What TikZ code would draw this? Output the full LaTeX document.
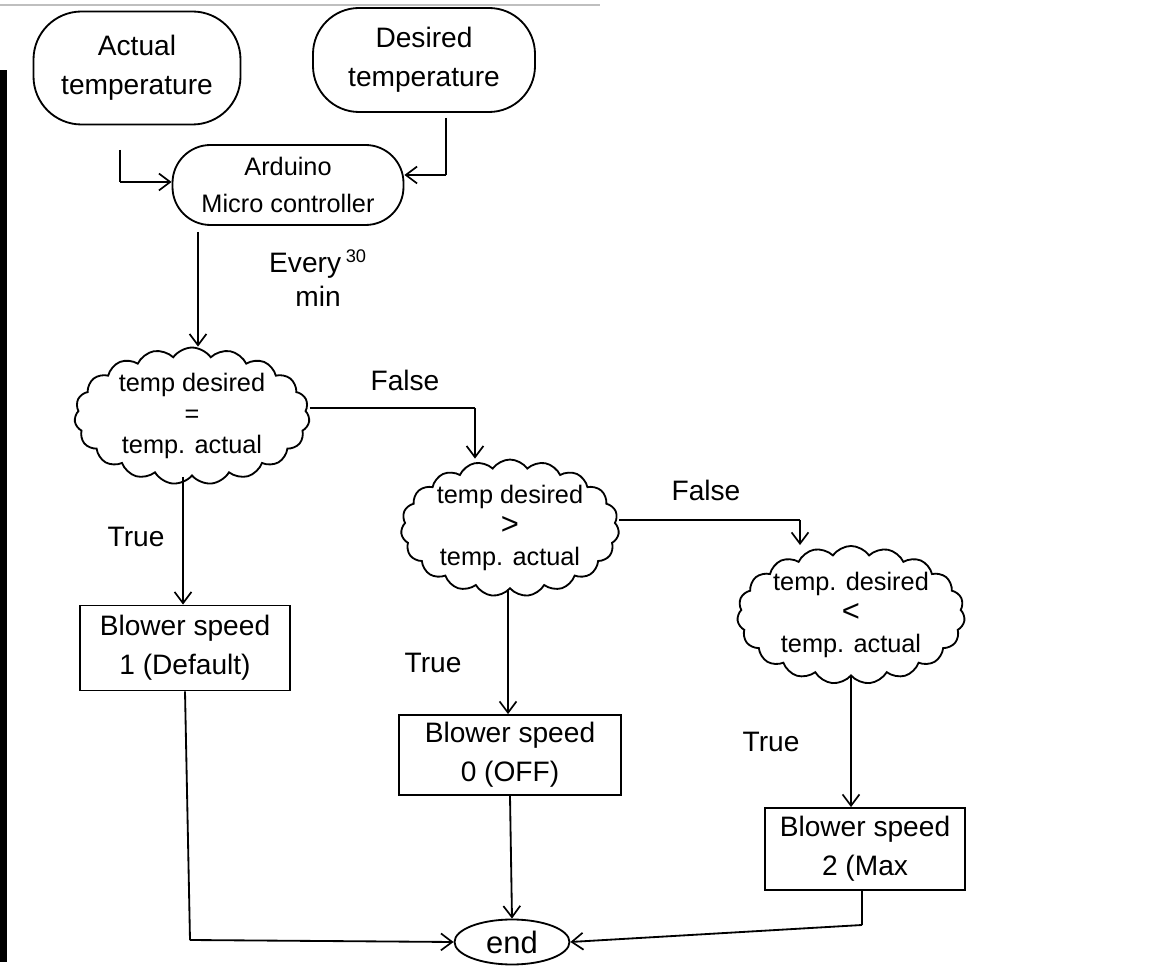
\documentclass[tikz,border=0pt]{standalone}
\usepackage{fontspec}
\setmainfont{Liberation Sans}
\usetikzlibrary{shapes.geometric,shapes.symbols,arrows.meta,positioning}
\tikzset{
  conn/.style={line width=1.3pt,-{Straight Barb[length=8pt,width=12pt,line width=1.2pt]}},
  plain/.style={line width=1.3pt},
  blob/.style={rectangle,draw,line width=1.3pt,align=center,inner sep=0pt,font=\fontsize{20}{28}\selectfont},
  cond/.style={cloud,draw,line width=1.3pt,align=center,cloud puffs=19,cloud puff arc=110,cloud ignores aspect,inner sep=0pt,font=\fontsize{18}{22}\selectfont},
  act/.style={rectangle,draw,line width=1.3pt,align=center,inner sep=0pt,font=\fontsize{20}{28}\selectfont},
  lbl/.style={font=\fontsize{20}{24}\selectfont}
}
\begin{document}
\begin{tikzpicture}[x=0.025cm,y=-0.025cm]
\useasboundingbox (0,0) rectangle (1166,970);
\fill[white] (0,0) rectangle (1166,970);
% scan edge
\fill[black] (0,70) rectangle (7,962);
\draw[gray!50,line width=1pt] (0,5) -- (600,5);

\node[blob,rounded corners={48*0.025cm},minimum width={207*0.025cm},minimum height={113*0.025cm}] (act) at (137,68) {Actual\\temperature};
\node[blob,rounded corners={46*0.025cm},minimum width={222*0.025cm},minimum height={104*0.025cm}] (des) at (424,60) {Desired\\temperature};
\node[blob,rounded corners={38*0.025cm},minimum width={231*0.025cm},minimum height={80*0.025cm},font=\fontsize{18}{26}\selectfont] (ard) at (288,185) {Arduino\\Micro controller};

\coordinate (c1) at (120,182);
\draw[plain] (120,150) |- (c1);
\draw[conn] (c1) -- (ard.west |- c1);
\coordinate (c2) at (446,175);
\draw[plain] (446,118) |- (c2);
\draw[conn] (c2) -- (ard.east |- c2);

\node[cond,minimum width={235*0.025cm},minimum height={132*0.025cm}] (q1) at (192,416) {temp desired\\=\\temp. actual};
\node[cond,minimum width={218*0.025cm},minimum height={133*0.025cm}] (q2) at (510,528) {temp desired\\{\fontsize{22}{22}\selectfont >}\\temp. actual};
\node[cond,minimum width={222*0.025cm},minimum height={120*0.025cm}] (q3) at (851,615) {temp. desired\\{\fontsize{22}{22}\selectfont <}\\temp. actual};

\draw[conn] (198,232) -- (q1.north -| 198,0);
\node[lbl,align=center] (every) at (318,278) {Every\,\textsuperscript{\fontsize{13}{13}\selectfont 30}\\min};

\node[act,minimum width={210*0.025cm},minimum height={85*0.025cm}] (b1) at (185,648) {Blower speed\\1 (Default)};
\node[act,minimum width={222*0.025cm},minimum height={80*0.025cm}] (b2) at (510,755) {Blower speed\\0 (OFF)};
\node[act,minimum width={200*0.025cm},minimum height={82*0.025cm}] (b3) at (865,849) {Blower speed\\2 (Max};

\node[ellipse,draw,line width=1.3pt,minimum width={115*0.025cm},minimum height={45*0.025cm},inner sep=0pt,font=\fontsize{22}{24}\selectfont] (end) at (512,942) {end};

% False branches
\coordinate (f1) at (475,408);
\draw[plain] (q1.east |- f1) -- (f1);
\draw[conn] (f1) -- (q2.north -| f1);
\node[lbl] (false1) at (405,380) {False};
\coordinate (f2) at (800,520);
\draw[plain] (q2.east |- f2) -- (f2);
\draw[conn] (f2) -- (q3.north -| f2);
\node[lbl] (false2) at (706,490) {False};

% True branches
\draw[conn] (q1.south -| 183,0) -- (b1.north -| 183,0);
\node[lbl] (true1) at (136,537) {True};
\draw[conn] (q2.south -| 508,0) -- (b2.north -| 508,0);
\node[lbl] (true2) at (433,663) {True};
\draw[conn] (q3.south) -- (b3.north -| q3.south);
\node[lbl] (true3) at (771,742) {True};

% to end
\coordinate (e1) at (190,940);
\draw[plain] (b1.south -| 185,0) -- (e1);
\draw[conn] (e1) -- (end.west);
\draw[conn] (b2.south) -- (end.north);
\coordinate (e3) at (862,925);
\draw[plain] (b3.south -| 862,0) -- (e3);
\draw[conn] (e3) -- (end.east);
\end{tikzpicture}
\end{document}
